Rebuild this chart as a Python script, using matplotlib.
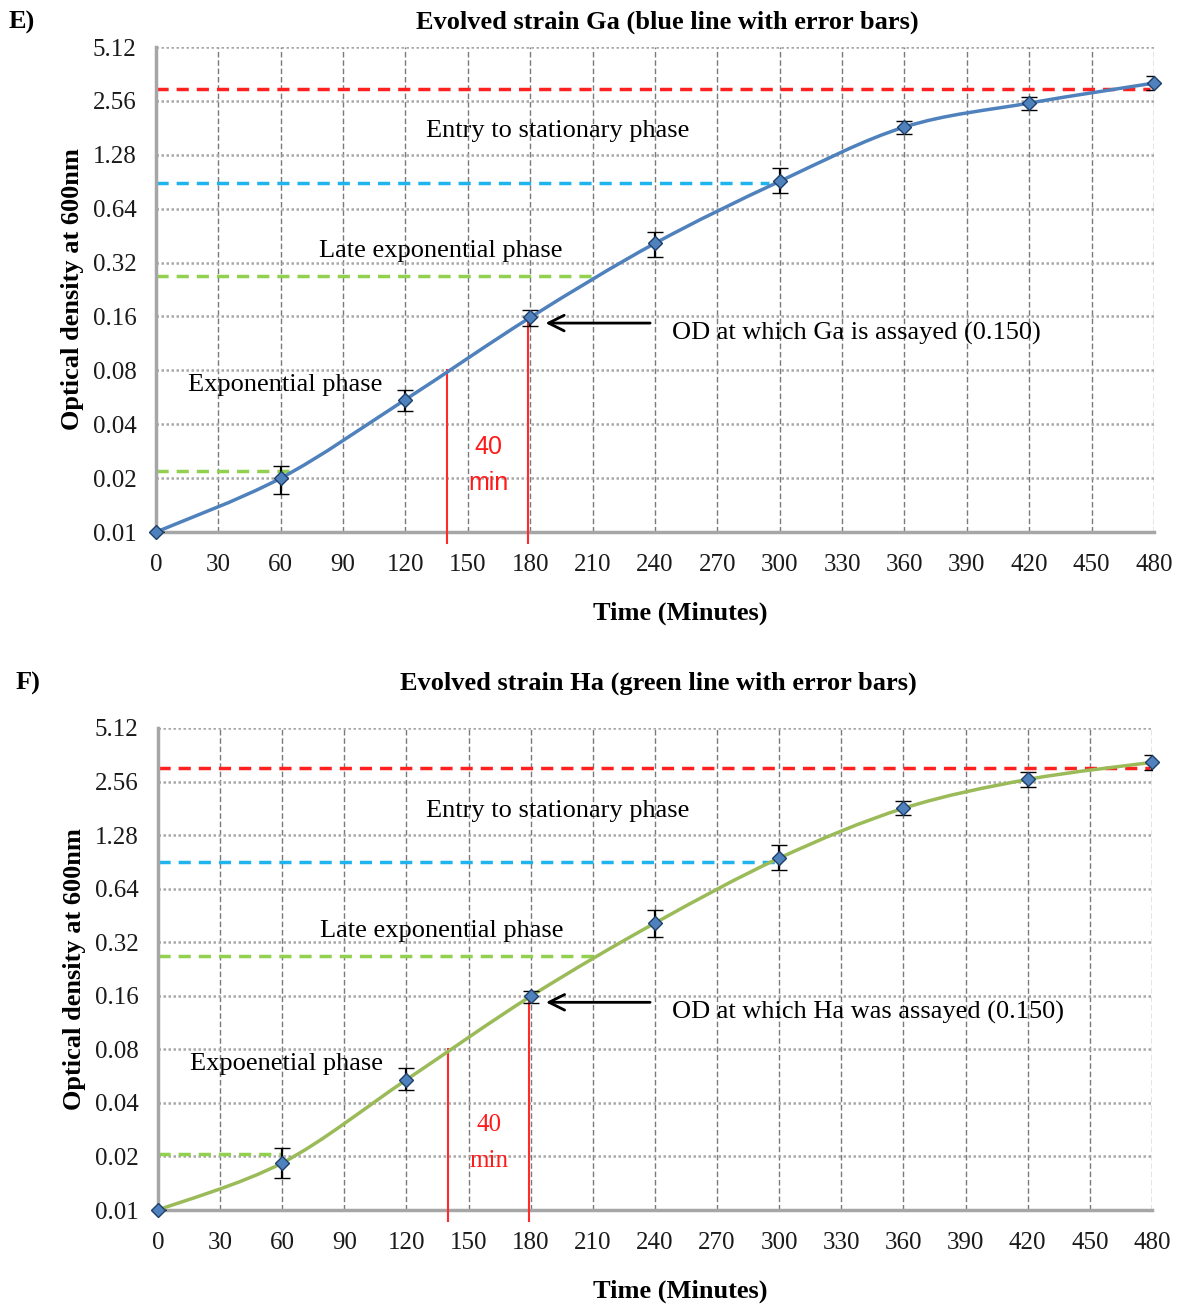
import numpy as np
import matplotlib.pyplot as plt
from matplotlib.path import Path
from matplotlib.patches import PathPatch

# time points (minutes)
time = [0, 60, 120, 180, 240, 300, 360, 420, 480]

# strain Ga (panel E): OD600 means and error bar limits
ga_od = [0.01, 0.020, 0.055, 0.158, 0.41, 0.91, 1.83, 2.49, 3.22]
ga_lo = [0.01, 0.0163, 0.0474, 0.141, 0.343, 0.78, 1.67, 2.27, 2.94]
ga_hi = [0.01, 0.0234, 0.062, 0.174, 0.475, 1.08, 1.98, 2.69, 3.52]

# strain Ha (panel F)
ha_od = [0.01, 0.0184, 0.054, 0.159, 0.41, 0.95, 1.81, 2.63, 3.28]
ha_lo = [0.01, 0.0151, 0.0472, 0.145, 0.341, 0.81, 1.65, 2.40, 2.96]
ha_hi = [0.01, 0.0223, 0.0627, 0.171, 0.485, 1.12, 1.98, 2.88, 3.60]

# phase threshold lines: (OD, end time, colour)
ga_phase = [(2.98, 478, '#ff2020'), (0.89, 295, '#1fb4ee'),
            (0.27, 211, '#92d050'), (0.022, 64, '#92d050')]
ha_phase = [(3.04, 479, '#ff2020'), (0.90, 298, '#1fb4ee'),
            (0.267, 211, '#92d050'), (0.0206, 60, '#92d050')]

y_ticks = [0.01, 0.02, 0.04, 0.08, 0.16, 0.32, 0.64, 1.28, 2.56, 5.12]
x_ticks = list(range(0, 481, 30))

SERIF = 'Liberation Serif'
FS = 19      # annotations, titles, axis labels
FS_TICK = 18


def smooth_path(x, y):
    # excel-like smoothed line: bezier segments built in log2 space
    pts = np.column_stack([np.array(x, float), np.log2(y)])
    n = len(pts)
    verts = [pts[0]]
    codes = [Path.MOVETO]
    for i in range(n - 1):
        p0 = pts[max(i - 1, 0)]
        p1 = pts[i]
        p2 = pts[i + 1]
        p3 = pts[min(i + 2, n - 1)]
        verts += [p1 + (p2 - p0) / 6, p2 - (p3 - p1) / 6, p2]
        codes += [Path.CURVE4] * 3
    verts = np.array(verts)
    verts[:, 1] = 2 ** verts[:, 1]
    return Path(verts, codes)


def draw_panel(ax, od, lo, hi, phase, line_col, labels, min_font):
    ax.set_yscale('log')
    ax.set_xlim(0, 480)
    ax.set_ylim(0.01, 5.12)
    ax.set_yticks(y_ticks)
    ax.set_yticklabels([f'{v:.2f}' for v in y_ticks])
    ax.yaxis.set_minor_locator(plt.NullLocator())
    ax.set_xticks(x_ticks)
    ax.tick_params(length=0, labelsize=FS_TICK, labelcolor='#1a1a1a')
    ax.tick_params(axis='x', pad=16)
    ax.tick_params(axis='y', pad=14)
    for lab in ax.get_xticklabels() + ax.get_yticklabels():
        lab.set_family(SERIF)

    ax.grid(axis='x', linestyle=(0, (4, 2)), color='#7a7a7a', lw=1.0)
    ax.grid(axis='y', linestyle=(0, (1, 1)), color='#a8a8a8', lw=1.8)
    for s in ['top', 'right']:
        ax.spines[s].set_visible(False)
    for s in ['left', 'bottom']:
        ax.spines[s].set_color('#a6a6a6')
        ax.spines[s].set_linewidth(2.5)

    # phase threshold dashed lines
    for val, end, col in phase:
        ax.plot([0, end], [val, val], color=col, lw=2.5,
                ls=(0, (3.5, 2.3)), zorder=2)

    # 40 min window
    ax.plot([140, 140], [0.0087, 0.08], color='#ff2a2a', lw=1.5,
            clip_on=False, zorder=3)
    ax.plot([179, 179], [0.0087, 0.159], color='#ff2a2a', lw=1.5,
            clip_on=False, zorder=3)

    ax.add_patch(PathPatch(smooth_path(time, od), fill=False,
                           edgecolor=line_col, lw=2.5, zorder=4))
    od_a = np.array(od)
    yerr = [od_a - np.array(lo), np.array(hi) - od_a]
    eb = ax.errorbar(time, od, yerr=yerr, fmt='D', color='black',
                     ecolor='black', elinewidth=1.6, capsize=6, capthick=2,
                     ms=7, mfc='#4f81bd', mec='#1f3f6a', mew=1, zorder=5)
    eb[0].set_clip_on(False)

    ax.set_xlabel('Time (Minutes)', fontsize=FS, fontweight='bold',
                  family=SERIF, labelpad=18)
    ax.xaxis.label.set_x(0.525)
    ax.set_ylabel('Optical density at 600nm', fontsize=FS, fontweight='bold',
                  family=SERIF, labelpad=6)

    ax.text(193, 1.74, 'Entry to stationary phase', fontsize=FS,
            family=SERIF, ha='center', va='center')
    ax.text(137, 0.37, 'Late exponential phase', fontsize=FS,
            family=SERIF, ha='center', va='center')
    ax.text(62, 0.066, labels[0], fontsize=FS, family=SERIF,
            ha='center', va='center')
    ax.text(248, 0.129, labels[1], fontsize=FS, family=SERIF,
            ha='left', va='center')
    ax.annotate('', xy=(186, 0.147), xytext=(239, 0.147),
                arrowprops=dict(arrowstyle='->', color='black', lw=2,
                                mutation_scale=28))
    ax.text(160, 0.030, '40', fontsize=FS - 1, color='#ff1a1a',
            family=min_font, ha='center', va='center')
    ax.text(160, 0.0188, 'min', fontsize=FS - 1, color='#ff1a1a',
            family=min_font, ha='center', va='center')


fig = plt.figure(figsize=(11.87, 13.06), dpi=100)

ax_e = fig.add_axes([0.1314, 0.5926, 0.8408, 0.3714])
draw_panel(ax_e, ga_od, ga_lo, ga_hi, ga_phase, '#4f81bd',
           ['Exponential phase', 'OD at which Ga is assayed (0.150)'],
           'Liberation Sans')

ax_f = fig.add_axes([0.1331, 0.0735, 0.8374, 0.3691])
draw_panel(ax_f, ha_od, ha_lo, ha_hi, ha_phase, '#9bbb59',
           ['Expoenetial phase', 'OD at which Ha was assayed (0.150)'],
           SERIF)

W, H = 1187, 1306
fig.text(667 / W, 1 - 22 / H, 'Evolved strain Ga (blue line with error bars)',
         fontsize=FS, fontweight='bold', family=SERIF, ha='center', va='center')
fig.text(658 / W, 1 - 683 / H, 'Evolved strain Ha (green line with error bars)',
         fontsize=FS, fontweight='bold', family=SERIF, ha='center', va='center')
fig.text(22 / W, 1 - 22 / H, 'E)', fontsize=FS, fontweight='bold',
         family=SERIF, ha='center', va='center')
fig.text(28 / W, 1 - 683 / H, 'F)', fontsize=FS, fontweight='bold',
         family=SERIF, ha='center', va='center')

fig.savefig('out.png', dpi=100)
